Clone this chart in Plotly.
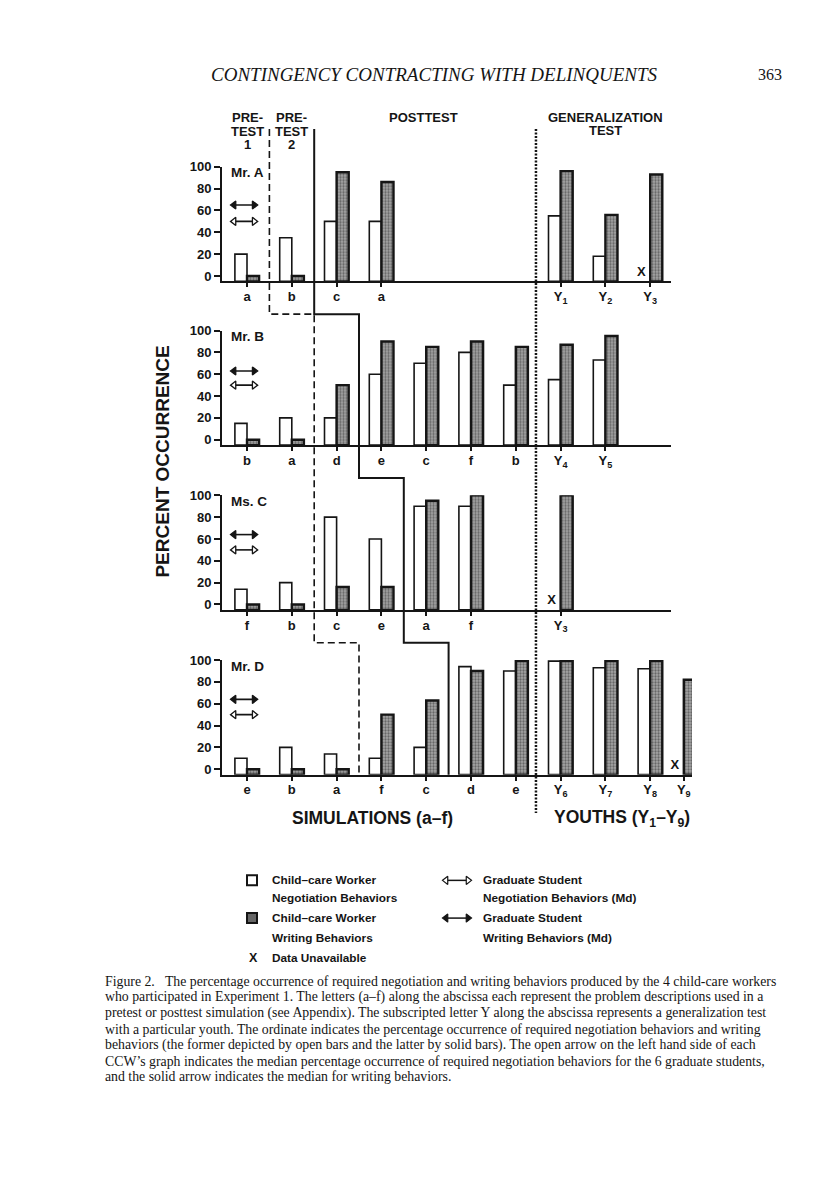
import plotly.graph_objects as go

# ---------------------------------------------------------------- data
panel_names = ["Mr. A", "Mr. B", "Ms. C", "Mr. D"]

# simulations (pretest 1, pretest 2, posttests) : letters a-f
a_sim_labels = ["a", "b", "c", "a"]
a_sim_neg = [20, 35, 50, 50]
a_sim_wri = [0, 0, 95, 86]
a_youth_labels = ["1", "2", "3"]
a_youth_neg = [55, 18, None]
a_youth_wri = [96, 56, 93]

b_sim_labels = ["b", "a", "d", "e", "c", "f", "b"]
b_sim_neg = [15, 20, 20, 60, 70, 80, 50]
b_sim_wri = [0, 0, 50, 90, 85, 90, 85]
b_youth_labels = ["4", "5"]
b_youth_neg = [55, 73]
b_youth_wri = [87, 95]

c_sim_labels = ["f", "b", "c", "e", "a", "f"]
c_sim_neg = [14, 20, 80, 60, 90, 90]
c_sim_wri = [0, 0, 16, 16, 95, 100]
c_youth_labels = ["3"]
c_youth_neg = [None]
c_youth_wri = [100]

d_sim_labels = ["e", "b", "a", "f", "c", "d", "e"]
d_sim_neg = [10, 20, 14, 10, 20, 94, 90]
d_sim_wri = [0, 0, 0, 50, 63, 90, 99]
d_youth_labels = ["6", "7", "8", "9"]
d_youth_neg = [99, 93, 92, None]
d_youth_wri = [99, 99, 99, 82]

# graduate-student medians (arrows)
grad_neg_median = [50, 50, 50, 50]
grad_wri_median = [65, 63, 64, 64]

y_tick_values = [0, 20, 40, 60, 80, 100]

caption_lines = [
    "Figure 2.\u00a0\u00a0 The percentage occurrence of required negotiation and writing behaviors produced by the 4 child-care workers",
    "who participated in Experiment 1. The letters (a\u2013f) along the abscissa each represent the problem descriptions used in a",
    "pretest or posttest simulation (see Appendix). The subscripted letter Y along the abscissa represents a generalization test",
    "with a particular youth. The ordinate indicates the percentage occurrence of required negotiation behaviors and writing",
    "behaviors (the former depicted by open bars and the latter by solid bars). The open arrow on the left hand side of each",
    "CCW\u2019s graph indicates the median percentage occurrence of required negotiation behaviors for the 6 graduate students,",
    "and the solid arrow indicates the median for writing behaviors.",
]

panels = [
    dict(sim=a_sim_labels, sn=a_sim_neg, sw=a_sim_wri, yl=a_youth_labels, yn=a_youth_neg, yw=a_youth_wri),
    dict(sim=b_sim_labels, sn=b_sim_neg, sw=b_sim_wri, yl=b_youth_labels, yn=b_youth_neg, yw=b_youth_wri),
    dict(sim=c_sim_labels, sn=c_sim_neg, sw=c_sim_wri, yl=c_youth_labels, yn=c_youth_neg, yw=c_youth_wri),
    dict(sim=d_sim_labels, sn=d_sim_neg, sw=d_sim_wri, yl=d_youth_labels, yn=d_youth_neg, yw=d_youth_wri),
]

# ---------------------------------------------------------------- layout constants
W, H = 816, 1195
PANEL_TOP = [161, 326, 492, 658]      # pixel row of 100 %
PX_PER_PCT = 1.1
Y_MIN = -5
X0_PX = 222
SLOT0_PX = 247
SLOT_PX = 44.8
X_RIGHT_PX = [671, 671, 671, 692]
YOUTH_SLOTS = [7, 8, 9, 9.75]
BAR_W = 0.27
DASH_COL = [0.5, 1.5, 1.5, 2.5]       # pretest1 | pretest2 boundary per panel
SOLID_COL = [1.5, 2.5, 3.5, 4.5]      # pretest | posttest boundary per panel
DOT_COL = 6.45

SANS = "Liberation Sans, Arial, Helvetica, sans-serif"
SERIF = "Liberation Serif, Times New Roman, serif"
INK = "#151515"


def sx(slot):
    return SLOT0_PX + SLOT_PX * slot


def axis_row(i):
    return PANEL_TOP[i] + (100 - Y_MIN) * PX_PER_PCT


fig = go.Figure()
layout = dict(
    width=W, height=H, margin=dict(l=0, r=0, t=0, b=0),
    paper_bgcolor="white", plot_bgcolor="rgba(0,0,0,0)",
    showlegend=False, barmode="overlay",
    font=dict(family=SANS, color=INK, size=12),
)

for i, p in enumerate(panels):
    k = "" if i == 0 else str(i + 1)
    xn, yn = "x" + k, "y" + k
    n_sim, n_y = len(p["sim"]), len(p["yl"])
    pos = list(range(n_sim)) + YOUTH_SLOTS[:n_y]
    labels = p["sim"] + ["Y<sub>%s</sub>" % s for s in p["yl"]]
    neg = p["sn"] + p["yn"]
    wri = p["sw"] + p["yw"]

    top = PANEL_TOP[i]
    bot = axis_row(i)
    layout["xaxis" + k] = dict(
        domain=[X0_PX / W, X_RIGHT_PX[i] / W],
        range=[(X0_PX - SLOT0_PX) / SLOT_PX, (X_RIGHT_PX[i] - SLOT0_PX) / SLOT_PX],
        anchor=yn, showgrid=False, zeroline=False,
        showline=True, linecolor=INK, linewidth=2,
        ticks="outside", ticklen=4, tickwidth=1.5, tickcolor=INK,
        ticklabelstandoff=-2,
        tickvals=pos, ticktext=labels,
        tickfont=dict(family=SANS, size=13, weight="bold", color=INK),
        fixedrange=True,
    )
    layout["yaxis" + k] = dict(
        domain=[1 - bot / H, 1 - top / H],
        range=[Y_MIN, 100], anchor=xn,
        showgrid=False, zeroline=False,
        showline=True, linecolor=INK, linewidth=2,
        ticks="outside", ticklen=6, tickwidth=2, tickcolor=INK,
        tickvals=y_tick_values, ticktext=[str(v) for v in y_tick_values],
        tickfont=dict(family=SANS, size=13, weight="bold", color=INK),
        fixedrange=True,
    )

    # open bars: negotiation
    fig.add_trace(go.Bar(
        x=[q for q, v in zip(pos, neg) if v is not None],
        y=[v - Y_MIN for v in neg if v is not None],
        base=Y_MIN, width=BAR_W, offset=-BAR_W,
        marker=dict(color="white", line=dict(color=INK, width=1.6)),
        xaxis=xn, yaxis=yn, hoverinfo="skip",
    ))
    # stippled bars: writing
    fig.add_trace(go.Bar(
        x=[q for q, v in zip(pos, wri) if v is not None],
        y=[v - Y_MIN for v in wri if v is not None],
        base=Y_MIN, width=BAR_W, offset=0,
        marker=dict(color="#9a9a9a", line=dict(color=INK, width=2.4),
                    pattern=dict(shape=".", fgcolor="#252525", bgcolor="#a6a6a6",
                                 size=3, solidity=0.45)),
        xaxis=xn, yaxis=yn, hoverinfo="skip",
    ))
    # "X" = data unavailable
    xs = [q - 0.2 for q, v in zip(pos, neg) if v is None]
    if xs:
        fig.add_trace(go.Scatter(
            x=xs, y=[3] * len(xs), mode="text", text=["X"] * len(xs),
            textfont=dict(family=SANS, size=13, weight="bold", color=INK),
            xaxis=xn, yaxis=yn, hoverinfo="skip",
        ))
    # median arrows of graduate students
    for med, solid in ((grad_wri_median[i], True), (grad_neg_median[i], False)):
        fig.add_trace(go.Scatter(
            x=[-0.29, 0.16], y=[med, med], mode="lines+markers",
            line=dict(color=INK, width=1.6),
            marker=dict(symbol=["triangle-left", "triangle-right"], size=7,
                        color=INK if solid else "white",
                        line=dict(color=INK, width=1.3)),
            xaxis=xn, yaxis=yn, hoverinfo="skip",
        ))

# overlay axis in pixel coordinates for page furniture
layout["xaxis5"] = dict(domain=[0, 1], range=[0, W], visible=False, fixedrange=True, anchor="y5")
layout["yaxis5"] = dict(domain=[0, 1], range=[H, 0], visible=False, fixedrange=True, anchor="x5")

# legend symbols
LEG_ROWS = [880, 898, 918, 938, 958]
fig.add_trace(go.Scatter(
    x=[252], y=[LEG_ROWS[0]], mode="markers", xaxis="x5", yaxis="y5", hoverinfo="skip",
    marker=dict(symbol="square", size=10, color="white", line=dict(color=INK, width=2)),
))
fig.add_trace(go.Scatter(
    x=[252], y=[LEG_ROWS[2]], mode="markers", xaxis="x5", yaxis="y5", hoverinfo="skip",
    marker=dict(symbol="square", size=10, color="#666666", line=dict(color=INK, width=2)),
))
for yy, solid in ((LEG_ROWS[0], False), (LEG_ROWS[2], True)):
    fig.add_trace(go.Scatter(
        x=[446, 468], y=[yy, yy], mode="lines+markers", xaxis="x5", yaxis="y5",
        hoverinfo="skip", line=dict(color=INK, width=1.5),
        marker=dict(symbol=["triangle-left", "triangle-right"], size=7,
                    color=INK if solid else "white", line=dict(color=INK, width=1.2)),
    ))

shapes = []
# phase-change lines
def phase_path(cols, y_start):
    pts = [(sx(cols[0]), y_start)]
    for i in range(1, 4):
        if cols[i] != cols[i - 1]:
            yy = axis_row(i - 1) + 33
            pts.append((sx(cols[i - 1]), yy))
            pts.append((sx(cols[i]), yy))
    pts.append((sx(cols[-1]), axis_row(3)))
    return "M" + " L".join("%.1f,%.1f" % pt for pt in pts)

shapes.append(dict(type="path", xref="x5", yref="y5", path=phase_path(SOLID_COL, 123),
                   line=dict(color=INK, width=2)))
shapes.append(dict(type="path", xref="x5", yref="y5", path=phase_path(DASH_COL, 123),
                   line=dict(color=INK, width=1.6, dash="7px,4px")))
shapes.append(dict(type="line", xref="x5", yref="y5", x0=sx(DOT_COL), x1=sx(DOT_COL),
                   y0=123, y1=812, line=dict(color=INK, width=2.5, dash="2px,1.5px")))
layout["shapes"] = shapes

ann = []
def txt(x, y, s, size=12, bold=True, anchor="center", family=SANS, italic=False, angle=0):
    ann.append(dict(x=x, y=y, xref="x5", yref="y5", text=s, showarrow=False,
                    xanchor=anchor, yanchor="middle", textangle=angle,
                    font=dict(family=family, size=size, color=INK,
                              weight="bold" if bold else "normal",
                              style="italic" if italic else "normal")))

# page header
txt(434, 68, "CONTINGENCY CONTRACTING WITH DELINQUENTS", size=19, bold=False,
    family=SERIF, italic=True)
txt(770, 68, "363", size=16, bold=False, family=SERIF)

# phase headers
for j, n in enumerate(["1", "2"]):
    txt(sx(j), 111, "PRE-", size=13)
    txt(sx(j), 125, "TEST", size=13)
    txt(sx(j), 139, n, size=13)
txt(423, 111, "POSTTEST", size=13)
txt(605, 111, "GENERALIZATION", size=13)
txt(605, 124, "TEST", size=13)

# panel names
for i, nm in enumerate(panel_names):
    txt(229, PANEL_TOP[i] + 6, nm, size=13.5, anchor="left")

# axis titles
txt(163, 458, "PERCENT OCCURRENCE", size=19, angle=-90)
txt(372, 817, "SIMULATIONS (a\u2013f)", size=17.5)
txt(622, 818, "YOUTHS (Y<sub>1</sub>\u2013Y<sub>9</sub>)", size=17.5)

# legend texts
LEG_FS = 11.8
txt(270, LEG_ROWS[0], "Child\u2013care Worker", size=LEG_FS, anchor="left")
txt(270, LEG_ROWS[1], "Negotiation Behaviors", size=LEG_FS, anchor="left")
txt(270, LEG_ROWS[2], "Child\u2013care Worker", size=LEG_FS, anchor="left")
txt(270, LEG_ROWS[3], "Writing Behaviors", size=LEG_FS, anchor="left")
txt(247, LEG_ROWS[4], "X", size=12.5, anchor="left")
txt(270, LEG_ROWS[4], "Data Unavailable", size=LEG_FS, anchor="left")
txt(481, LEG_ROWS[0], "Graduate Student", size=LEG_FS, anchor="left")
txt(481, LEG_ROWS[1], "Negotiation Behaviors (Md)", size=LEG_FS, anchor="left")
txt(481, LEG_ROWS[2], "Graduate Student", size=LEG_FS, anchor="left")
txt(481, LEG_ROWS[3], "Writing Behaviors (Md)", size=LEG_FS, anchor="left")

# caption
for j, line in enumerate(caption_lines):
    txt(103, 982 + 16 * j, line, size=13.8, bold=False, family=SERIF, anchor="left")

layout["annotations"] = ann
fig.update_layout(**layout)
fig.write_html("out.html", config={"displayModeBar": False},
               post_script="document.body.style.margin='0px';")
